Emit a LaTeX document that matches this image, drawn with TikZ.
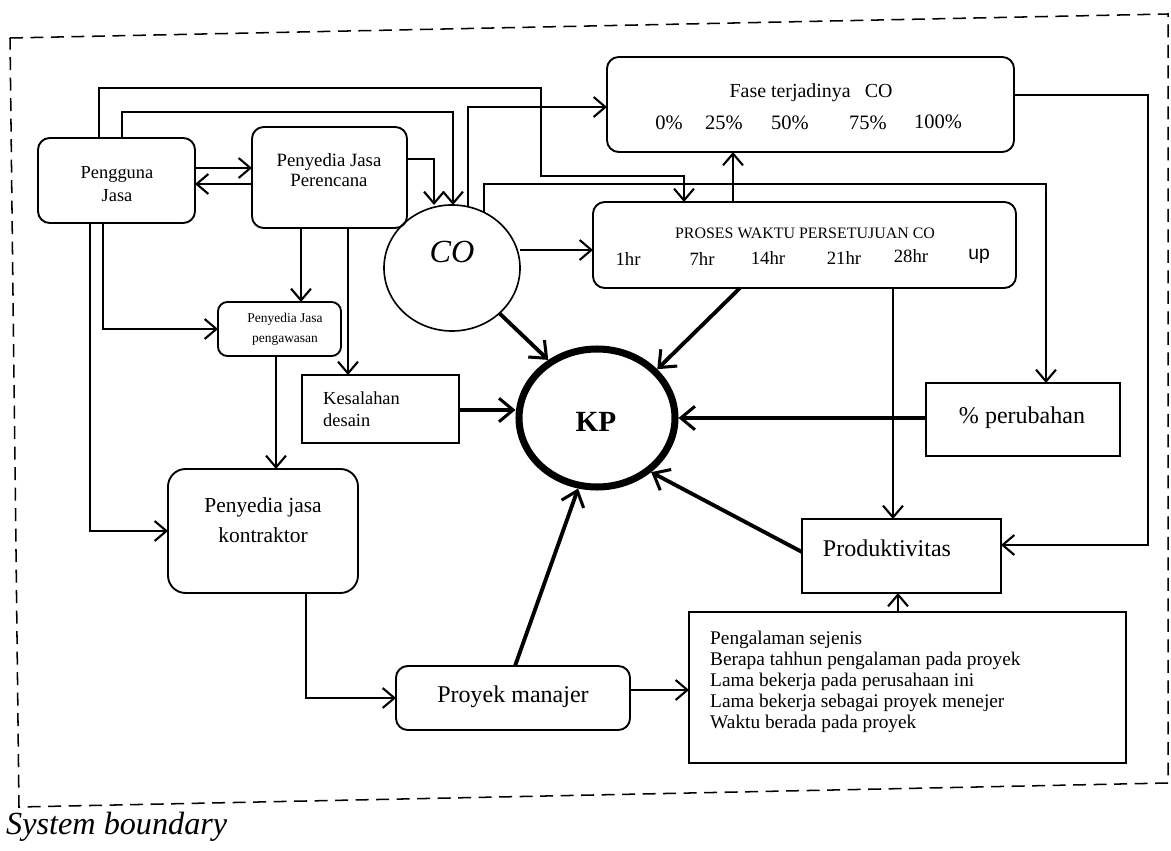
\documentclass[tikz,border=0pt]{standalone}
\usepackage{fontspec}
\setmainfont{Liberation Serif}
\newfontfamily\sansf{Liberation Sans}
\usetikzlibrary{arrows.meta,shapes.geometric,calc}
\newcommand\pxu[1]{#1*0.03cm}
\newcommand\fs[2]{\fontsize{#1pt}{#2pt}\selectfont}
\begin{document}
\begin{tikzpicture}[x=0.03cm,y=-0.03cm,
  rbox/.style={draw, rounded corners=10pt, line width=1.6pt, inner sep=0pt, outer sep=0pt},
  sbox/.style={draw, line width=1.6pt, inner sep=0pt, outer sep=0pt},
  txt/.style={inner sep=0pt, align=center},
  conn/.style={line width=1.8pt, -{Straight Barb[length=10pt,width=17pt]}},
  thinconn/.style={line width=1.1pt, -{Straight Barb[length=10pt,width=17pt,line width=1.8pt]}},
  heavy/.style={line width=3.3pt, -{Straight Barb[length=12pt,width=20pt,line width=2.6pt]}},
]
\useasboundingbox (0,0) rectangle (1171,851);

% boundary
\draw[line width=1.3pt, dash pattern=on 11pt off 6.5pt] (10,38) -- (1168,14) -- (1168,783) -- (19,807) -- cycle;
\node[anchor=west, inner sep=0pt, font=\fs{27.5}{30}\itshape] (sysb) at (6,827) {System boundary};

% nodes
\node[rbox, minimum width=\pxu{157}, minimum height=\pxu{85}] (pengguna) at (116.5,180.5) {};
\node[txt, font=\fs{15.7}{19}] (penggunat) at (117,184) {Pengguna\\Jasa};

\node[rbox, minimum width=\pxu{155}, minimum height=\pxu{101}] (perencana) at (329.5,177.5) {};
\node[txt, font=\fs{16}{17.5}] (perencanat) at (329,170) {Penyedia Jasa\\Perencana};

\node[draw, ellipse, line width=1.4pt, minimum width=\pxu{136}, minimum height=\pxu{126}, inner sep=0pt, outer sep=0pt] (co) at (452,268) {};
\node[txt, font=\fs{27.5}{30}\itshape] (cot) at (452,252) {CO};

\node[rbox, minimum width=\pxu{407}, minimum height=\pxu{95}] (fase) at (810.5,104.5) {};
\node[txt, font=\fs{17}{20}] (faset) at (811,93) {Fase terjadinya\hspace{12pt}CO};
\node[txt, font=\fs{17.5}{20}] (p0) at (669,123) {0\%};
\node[txt, font=\fs{17.5}{20}] (p25) at (724,123) {25\%};
\node[txt, font=\fs{17.5}{20}] (p50) at (790,123) {50\%};
\node[txt, font=\fs{17.5}{20}] (p75) at (868,123) {75\%};
\node[txt, font=\fs{17.5}{20}] (p100) at (938,122) {100\%};

\node[rbox, minimum width=\pxu{423}, minimum height=\pxu{86}] (proses) at (804.5,245) {};
\node[txt, font=\fs{13.6}{16}] (prosest) at (805,233) {PROSES WAKTU PERSETUJUAN CO};
\node[txt, font=\fs{16}{18}] (h1) at (628,259) {1hr};
\node[txt, font=\fs{16}{18}] (h7) at (702,259) {7hr};
\node[txt, font=\fs{16}{18}] (h14) at (768,258) {14hr};
\node[txt, font=\fs{16}{18}] (h21) at (844,258) {21hr};
\node[txt, font=\fs{16}{18}] (h28) at (911,256) {28hr};
\node[txt, font=\fs{16.5}{18}\sansf] (hup) at (979,256) {up};

\node[rbox, rounded corners=8pt, minimum width=\pxu{123}, minimum height=\pxu{54}] (pengawasan) at (279.5,329) {};
\node[txt, font=\fs{11.5}{17}] (pengawasant) at (285,329) {Penyedia Jasa\\pengawasan};

\node[sbox, minimum width=\pxu{157}, minimum height=\pxu{68}] (kesalahan) at (380.5,409) {};
\node[txt, align=left, anchor=west, font=\fs{15.7}{18.7}] (kesalahant) at (323,409) {Kesalahan\\desain};

\node[rbox, rounded corners=15pt, minimum width=\pxu{190}, minimum height=\pxu{124}] (kontraktor) at (263,531) {};
\node[txt, font=\fs{18.3}{25.5}] (kontraktort) at (263,520) {Penyedia jasa\\kontraktor};

\node[rbox, minimum width=\pxu{234}, minimum height=\pxu{64}] (pm) at (513,698) {};
\node[txt, font=\fs{20.5}{24}] (pmt) at (513,697) {Proyek manajer};

\node[sbox, minimum width=\pxu{437}, minimum height=\pxu{151}] (attr) at (907.5,687.5) {};
\node[txt, align=left, anchor=west, font=\fs{16.5}{17.9}] (attrt) at (710,682) {Pengalaman sejenis\\Berapa tahhun pengalaman pada proyek\\Lama bekerja pada perusahaan ini\\Lama bekerja sebagai proyek menejer\\Waktu berada pada proyek};

\node[sbox, minimum width=\pxu{194}, minimum height=\pxu{73}] (perc) at (1023,419.5) {};
\node[txt, font=\fs{20.5}{24}] (perct) at (1022,418) {\% perubahan};

\node[sbox, minimum width=\pxu{199}, minimum height=\pxu{74}] (prod) at (901.5,556) {};
\node[txt, font=\fs{20.5}{24}] (prodt) at (887,548) {Produktivitas};

\node[ellipse, draw, line width=6pt, minimum width=\pxu{156}, minimum height=\pxu{138}, inner sep=0pt] (kp) at (597,418) {};
\node[txt, font=\fs{25}{28}\bfseries] (kpt) at (596,422) {KP};

% connectors
\draw[conn] (pengguna.east |- 0,168) -- (perencana.west |- 0,168);
\draw[conn] (perencana.west |- 0,184) -- (pengguna.east |- 0,184);
\draw[conn] (perencana.east |- 0,159) -| (co.north -| 434,0);
\draw[conn] (pengguna.north -| 122,0) |- (453,112) -- (co.north -| 453,0);
\draw[conn] (pengguna.north -| 99,0) |- (541,88) |- (684,176) -- (proses.north -| 684,0);
\draw[conn] (co.75) |- (fase.west |- 0,107);
\draw[thinconn] (co.60) |- (1046,184) -- (perc.north -| 1046,0);
\draw[conn] (co.east |- 0,250) -- (proses.west |- 0,250);
\draw[conn] (proses.north -| 733,0) -- (fase.south -| 733,0);
\draw[thinconn] (fase.east |- 0,95) -| (1148,545) -- (prod.east |- 0,545);
\draw[conn] (proses.south -| 893,0) -- (prod.north -| 893,0);
\draw[conn] (perencana.south -| 301,0) -- (pengawasan.north -| 301,0);
\draw[conn] (perencana.south -| 348,0) -- (kesalahan.north -| 348,0);
\draw[conn] (pengguna.south -| 103,0) |- (pengawasan.west);
\draw[thinconn] (pengguna.south -| 90,0) |- (kontraktor.west);
\draw[conn] (pengawasan.south -| 276,0) -- (kontraktor.north -| 276,0);
\draw[conn] (kontraktor.south -| 306,0) |- (pm.west);
\draw[conn] (pm.east |- 0,690) -- (attr.west |- 0,690);
\draw[conn] (attr.north -| 898,0) -- (prod.south -| 898,0);

\draw[heavy] (co) -- (kp.130);
\draw[heavy] (proses.south -| 740,0) -- (kp.39);
\draw[heavy] (kesalahan.east |- 0,410) -- (kp.west |- 0,410);
\draw[heavy] (perc.west |- 0,418) -- (kp.east);
\draw[heavy] (prod.west |- 0,552) -- (kp.-45);
\draw[heavy] (pm.north -| 515,0) -- (kp.-105);
\end{tikzpicture}
\end{document}
